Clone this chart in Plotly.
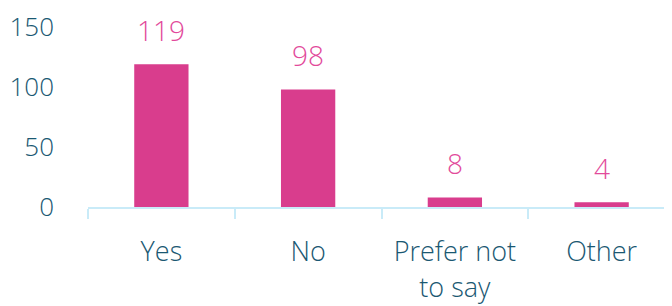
import plotly.graph_objects as go

categories = ["Yes", "No", "Prefer not<br>to say", "Other"]
values = [119, 98, 8, 4]
value_labels = ["119", "98", "8", "4"]
y_ticks = [0, 50, 100, 150]

bar_color = "#D93D8D"
label_color = "#E24A9B"
axis_text = "#1A5872"
axis_line = "#C9EBF8"
font_family = "Open Sans, Noto Sans, sans-serif"

fig = go.Figure()
fig.add_trace(go.Bar(
    x=categories, y=values, marker_color=bar_color, width=0.37,
    marker_line_width=0,
))
for c, v, t in zip(categories, values, value_labels):
    fig.add_annotation(x=c, y=v, text=t, showarrow=False, yanchor="bottom",
                       yshift=13, font=dict(size=28, color=label_color, family=font_family,
                                            weight=300))

fig.update_layout(
    width=672, height=306,
    margin=dict(l=80, r=5, t=19, b=107),
    paper_bgcolor="white", plot_bgcolor="white",
    showlegend=False,
    font=dict(family=font_family, color=axis_text, size=27, weight=300),
)
fig.update_yaxes(range=[0, 150], tickvals=y_ticks, showgrid=False, zeroline=False,
                 showline=False, ticks="", ticklabelstandoff=33, automargin=False,
                 ticklabeloverflow="allow",
                 tickfont=dict(size=26, color=axis_text, weight=300))
fig.update_xaxes(showline=True, linecolor=axis_line, linewidth=2, ticks="outside",
                 tickson="boundaries", ticklen=10, tickcolor=axis_line, tickwidth=2,
                 showgrid=False, ticklabelstandoff=20, automargin=False,
                 ticklabeloverflow="allow",
                 tickfont=dict(size=27, color=axis_text, weight=300))

fig.write_html("out.html")
